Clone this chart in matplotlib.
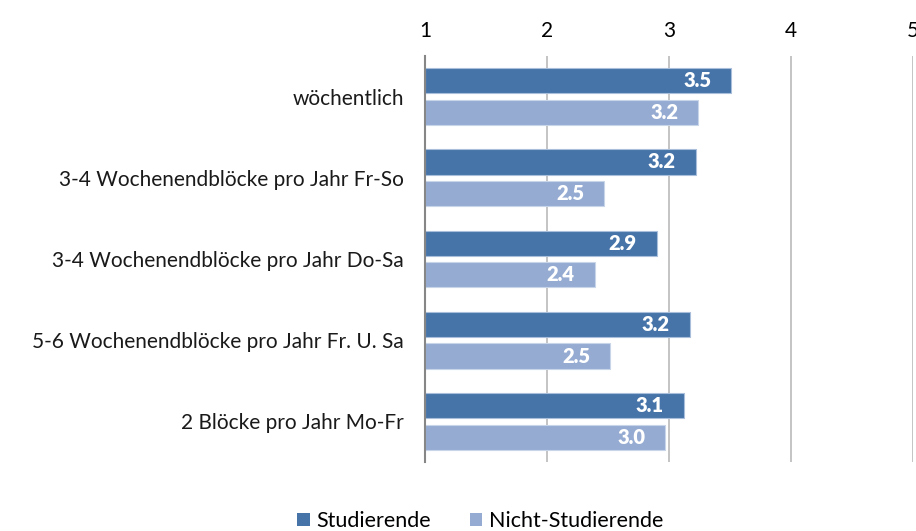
import matplotlib
matplotlib.use("Agg")
import matplotlib.pyplot as plt
from matplotlib.patches import Patch
import numpy as np

categories = ["wöchentlich",
              "3-4 Wochenendblöcke pro Jahr Fr-So",
              "3-4 Wochenendblöcke pro Jahr Do-Sa",
              "5-6 Wochenendblöcke pro Jahr Fr. U. Sa",
              "2 Blöcke pro Jahr Mo-Fr"]
studierende = [3.51, 3.22, 2.90, 3.17, 3.12]
nicht_studierende = [3.24, 2.47, 2.39, 2.52, 2.97]
xticks = [1, 2, 3, 4, 5]
series_names = ["Studierende", "Nicht-Studierende"]

FONT = ["Lato", "DejaVu Sans"]
plt.rcParams['font.family'] = FONT

W, H = 916, 531
fig = plt.figure(figsize=(W/100, H/100), dpi=100)
ax = fig.add_axes([425/W, 1-462/H, (913-425)/W, (462-56)/H])

c1 = "#4674A9"
c2 = "#95ABD2"
y = np.arange(len(categories))
h = 0.31
off = 0.195
base = 1
b1 = ax.barh(y - off, np.array(studierende) - base, left=base, height=h,
             color=c1, edgecolor="#A9BEDB", linewidth=0.8, zorder=3)
b2 = ax.barh(y + off, np.array(nicht_studierende) - base, left=base, height=h,
             color=c2, edgecolor="#C8D4E8", linewidth=0.8, zorder=3)

for bars, vals in ((b1, studierende), (b2, nicht_studierende)):
    for rect, v in zip(bars, vals):
        ax.annotate(f"{v:.1f}", xy=(v, rect.get_y() + rect.get_height()/2),
                    xytext=(-20, 0), textcoords="offset pixels",
                    ha="right", va="center", color="white", fontweight="heavy",
                    fontsize=14.5, zorder=4)

ax.set_xlim(1, 5)
ax.set_ylim(len(categories) - 0.5, -0.5)
ax.set_xticks(xticks)
ax.set_xticklabels([str(t) for t in xticks])
ax.xaxis.tick_top()
ax.tick_params(axis="x", length=0, pad=11, labelsize=15, labelcolor="black")
ax.set_yticks(y)
ax.set_yticklabels(categories)
ax.tick_params(axis="y", length=0, pad=15, labelsize=15, labelcolor="#1a1a1a")

ax.grid(axis="x", color="#BFBFBF", linewidth=1.3, zorder=0)
ax.grid(axis="y", visible=False)
for s in ["top", "right", "bottom"]:
    ax.spines[s].set_visible(False)
ax.spines["left"].set_color("#868686")
ax.spines["left"].set_linewidth(1.5)
ax.spines["left"].set_zorder(5)

handles = [Patch(facecolor=c1, edgecolor="none"), Patch(facecolor=c2, edgecolor="none")]
fig.legend(handles, series_names, loc="center", bbox_to_anchor=(480/W, 1-521/H),
           ncol=2, frameon=False, fontsize=15.5, handlelength=0.6, handleheight=0.6,
           handletextpad=0.3, columnspacing=1.8)

fig.savefig("out.png", dpi=100)
